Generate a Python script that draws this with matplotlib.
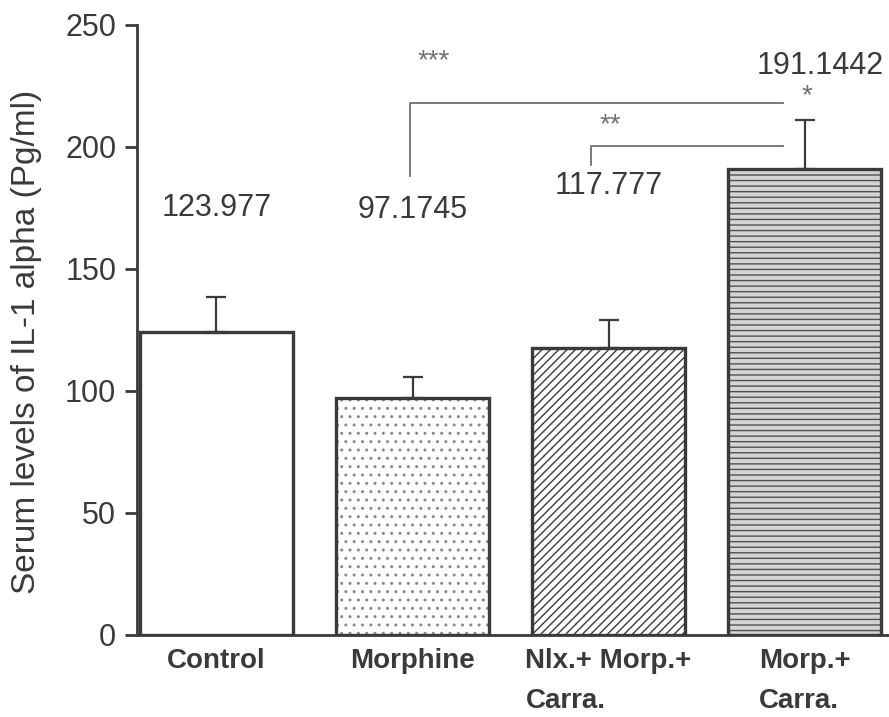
import matplotlib.pyplot as plt

plt.rcParams['font.family'] = ['Liberation Sans', 'DejaVu Sans']
plt.rcParams['hatch.linewidth'] = 1.0

# Data
groups = ['Control', 'Morphine', 'Nlx.+ Morp.+\nCarra.', 'Morp.+\nCarra.']
means = [123.977, 97.1745, 117.777, 191.1442]
errors = [14.5, 8.5, 11.3, 20.0]
value_labels = ['123.977', '97.1745', '117.777', '191.1442']
label_y = [175, 174, 184, 233]
hatches = ['', '..', '////', '---']
faces = ['white', 'white', 'white', '#d4d4d4']
hatch_colors = ['#3a3a3a', '#8a8a8a', '#3a3a3a', '#505050']

ink = '#3a3a3a'
x = list(range(len(groups)))

fig = plt.figure(figsize=(8.89, 7.17), dpi=100)
ax = fig.add_axes([137 / 889, 82 / 717, 752 / 889, 610 / 717])

for i in x:
    # hatch layer in its own colour, then the outline on top
    ax.bar(i, means[i], width=0.78, color=faces[i], edgecolor=hatch_colors[i],
           linewidth=0, hatch=hatches[i], zorder=2)
    ax.bar(i, means[i], width=0.78, fill=False, edgecolor=ink,
           linewidth=2.4, zorder=3)

ax.errorbar(x, means, yerr=[[0] * 4, errors], fmt='none', ecolor=ink,
            elinewidth=1.6, capsize=7, capthick=1.6, zorder=1)

# value labels above bars
for i in x:
    xi = i + (0.08 if i == 3 else 0)
    ax.text(xi, label_y[i], value_labels[i], ha='center', va='center',
            fontsize=22, color=ink)

# significance brackets
gray = '#707070'
ax.plot([0.985, 0.985, 2.89], [188, 218, 218], color=gray, lw=1.3)
ax.plot([1.91, 1.91, 2.89], [192.5, 200.5, 200.5], color=gray, lw=1.3)
ax.text(1.11, 235, '***', ha='center', va='center', fontsize=20, color=gray)
ax.text(2.01, 209, '**', ha='center', va='center', fontsize=20, color=gray)
ax.text(3.01, 221, '*', ha='center', va='center', fontsize=20, color=gray)

ax.set_xlim(-0.405, 3.43)
ax.set_ylim(0, 250)
ax.set_yticks([0, 50, 100, 150, 200, 250])
ax.set_xticks(x)
ax.set_xticklabels(groups, fontsize=20, fontweight='bold', color=ink,
                   ha='center', va='top', multialignment='left',
                   linespacing=1.75)
ax.tick_params(axis='x', length=0, pad=9)
ax.tick_params(axis='y', length=9, width=2, color=ink, labelsize=22,
               labelcolor=ink, pad=6)

ax.spines['top'].set_visible(False)
ax.spines['right'].set_visible(False)
for s in ['left', 'bottom']:
    ax.spines[s].set_color(ink)
    ax.spines[s].set_linewidth(2)

ax.set_ylabel('Serum levels of IL-1 alpha (Pg/ml)', fontsize=24, color=ink)
ax.yaxis.set_label_coords(-0.126, 0.48)

fig.savefig('out.png', dpi=100)
